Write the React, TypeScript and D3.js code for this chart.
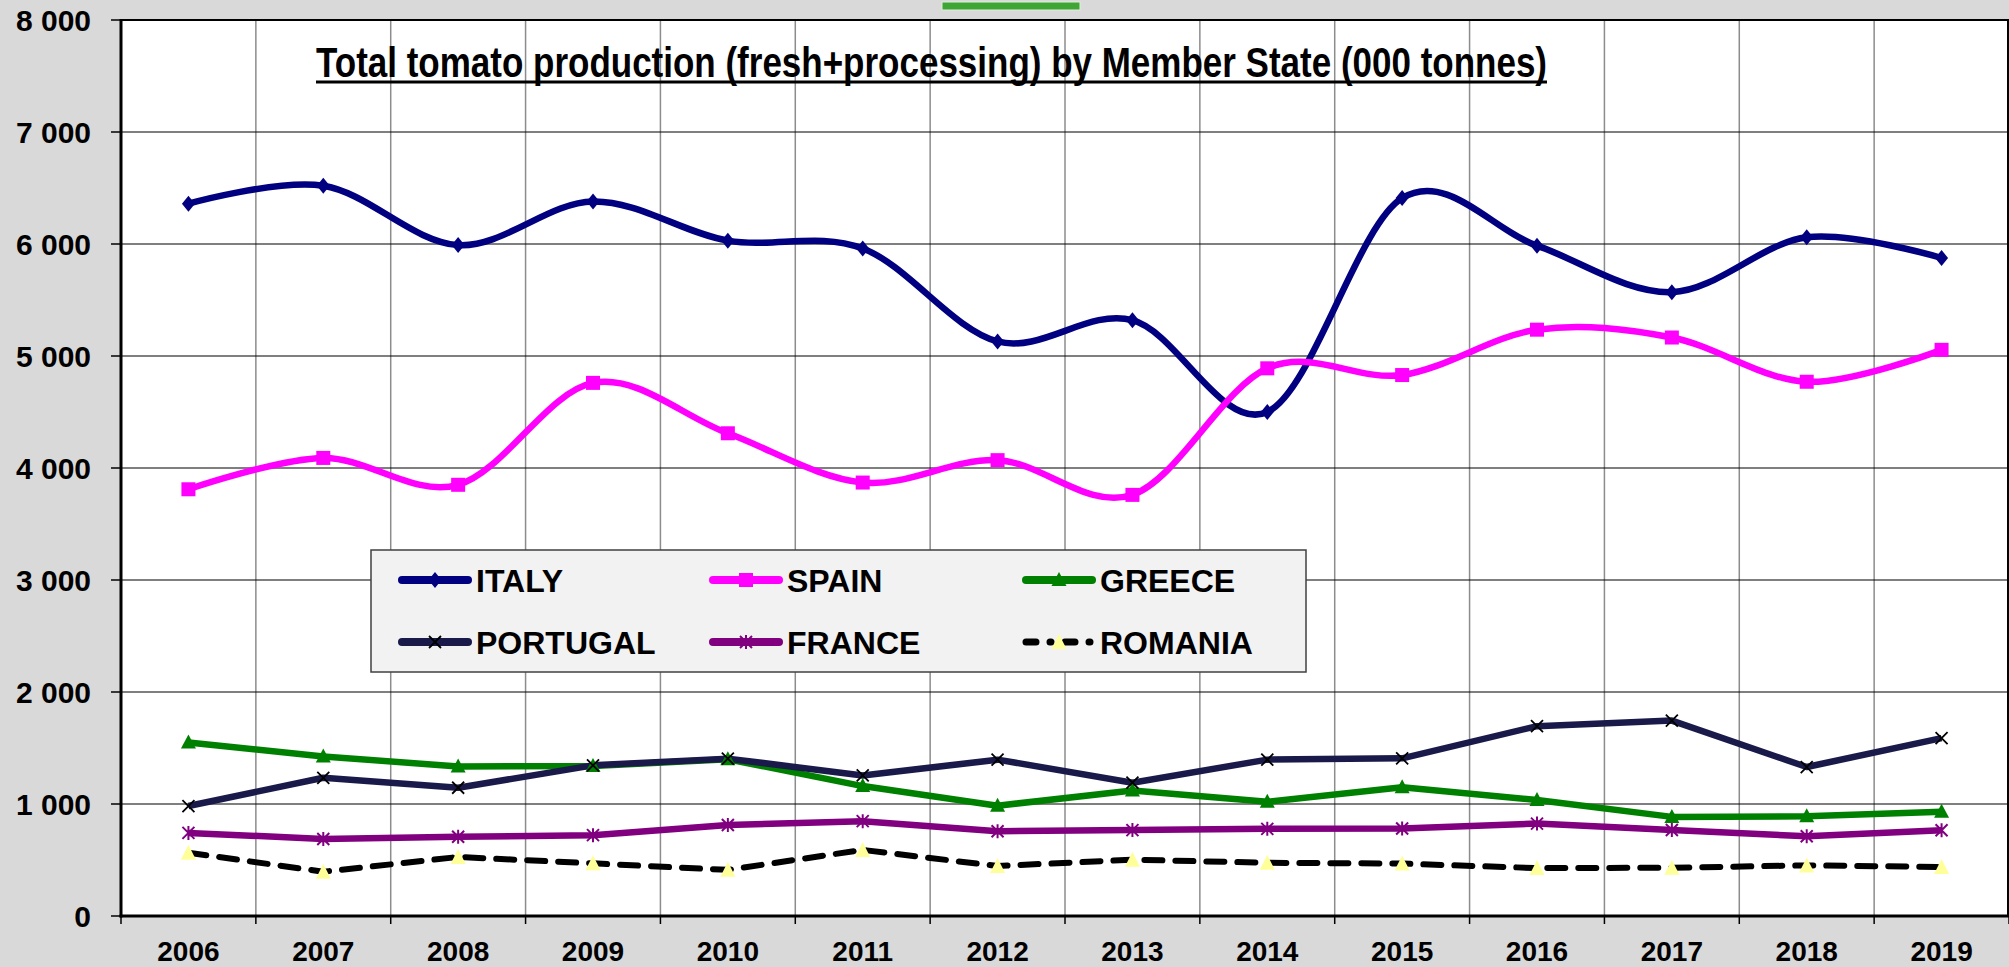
import React from 'react';
import * as d3 from 'd3';

// Total tomato production (fresh+processing) by Member State, 000 tonnes
const years = ['2006', '2007', '2008', '2009', '2010', '2011', '2012', '2013', '2014', '2015', '2016', '2017', '2018', '2019'];
const italy = [6360, 6520, 5990, 6380, 6030, 5960, 5130, 5320, 4500, 6410, 5985, 5570, 6060, 5875];
const spain = [3810, 4090, 3850, 4760, 4310, 3870, 4070, 3760, 4890, 4830, 5235, 5165, 4770, 5055];
const greece = [1550, 1425, 1335, 1340, 1400, 1160, 985, 1120, 1020, 1150, 1035, 885, 890, 930];
const portugal = [982, 1234, 1145, 1345, 1405, 1255, 1396, 1190, 1396, 1408, 1695, 1745, 1330, 1588];
const france = [742, 688, 707, 722, 812, 847, 757, 767, 778, 781, 825, 768, 712, 765];
const romania = [565, 395, 527, 470, 412, 590, 446, 503, 475, 468, 428, 431, 452, 438];
const yTicks = [0, 1000, 2000, 3000, 4000, 5000, 6000, 7000, 8000];
const title = 'Total tomato production (fresh+processing) by Member State (000 tonnes)';

type Marker = 'diamond' | 'square' | 'triangle' | 'x' | 'star' | 'ytriangle';

const series: { name: string; values: number[]; color: string; marker: Marker; smooth: boolean; dashed?: boolean }[] = [
    { name: 'ITALY', values: italy, color: '#000080', marker: 'diamond', smooth: true },
    { name: 'SPAIN', values: spain, color: '#ff00ff', marker: 'square', smooth: true },
    { name: 'GREECE', values: greece, color: '#008000', marker: 'triangle', smooth: false },
    { name: 'PORTUGAL', values: portugal, color: '#1a1a4a', marker: 'x', smooth: false },
    { name: 'FRANCE', values: france, color: '#800080', marker: 'star', smooth: false },
    { name: 'ROMANIA', values: romania, color: '#000000', marker: 'ytriangle', smooth: false, dashed: true },
];

const W = 2009;
const H = 967;
const left = 121;
const top = 20;
const right = 2009;
const bottom = 916;
const font = '"Liberation Sans", Arial, sans-serif';

const drawMarker = (m: Marker, color: string, cx: number, cy: number, key: string | number) => {
    switch (m) {
        case 'diamond':
            return <path key={key} d={`M${cx},${cy - 8}L${cx + 6.5},${cy}L${cx},${cy + 8}L${cx - 6.5},${cy}Z`} fill={color} />;
        case 'square':
            return <rect key={key} x={cx - 7} y={cy - 7} width={14} height={14} fill={color} />;
        case 'triangle':
            return <path key={key} d={`M${cx},${cy - 8}L${cx + 7.5},${cy + 6}L${cx - 7.5},${cy + 6}Z`} fill={color} />;
        case 'ytriangle':
            return <path key={key} d={`M${cx},${cy - 8}L${cx + 7.5},${cy + 7}L${cx - 7.5},${cy + 7}Z`} fill="#ffff99" />;
        case 'x':
            return (
                <path key={key} d={`M${cx - 6},${cy - 6}L${cx + 6},${cy + 6}M${cx + 6},${cy - 6}L${cx - 6},${cy + 6}`}
                    stroke="#000" strokeWidth={1.8} fill="none" />
            );
        case 'star':
            return (
                <path key={key}
                    d={`M${cx - 6},${cy - 6}L${cx + 6},${cy + 6}M${cx + 6},${cy - 6}L${cx - 6},${cy + 6}M${cx},${cy - 7}L${cx},${cy + 7}`}
                    stroke={color} strokeWidth={2} fill="none" />
            );
    }
};

const App: React.FC = () => {
    const x = d3.scaleBand<string>().domain(years).range([left, right]);
    const y = d3.scaleLinear().domain([0, 8000]).range([bottom, top]);
    const cx = (yr: string) => (x(yr) ?? 0) + x.bandwidth() / 2;

    const bounds = d3.range(years.length + 1).map(i => left + i * x.step());

    const legendCols = [398, 709, 1022];
    const legendRows = [580, 642];

    return (
        <div style={{ position: 'absolute', left: 0, top: 0 }}>
            <svg width={W} height={H} style={{ display: 'block' }}>
                <rect x={0} y={0} width={W} height={H} fill="#d9d9d9" />
                <rect x={942} y={2} width={138} height={8} fill="#3fa535" stroke="#e0f0dc" strokeWidth={1} />
                <rect x={left} y={top} width={right - left} height={bottom - top} fill="#fff" />

                {/* vertical grid */}
                {bounds.slice(1).map((b, i) => (
                    <line key={'vg' + i} x1={b} x2={b} y1={top} y2={bottom} stroke="#8c8c8c" strokeWidth={1.5} />
                ))}
                {/* horizontal grid */}
                {yTicks.slice(1, -1).map(t => (
                    <line key={'hg' + t} x1={left} x2={right} y1={y(t)} y2={y(t)} stroke="#000" strokeWidth={1.2} />
                ))}

                {/* title */}
                <text x={316} y={77} fontFamily={'"Liberation Sans Narrow", "Arial Narrow", ' + font} fontWeight="bold"
                    fontSize={42.6} textLength={1231} lengthAdjust="spacingAndGlyphs" fill="#000">{title}</text>
                <rect x={316} y={80.5} width={1231} height={3} fill="#000" />

                {/* lines */}
                {series.map(s => {
                    const line = d3.line<number>()
                        .x((_, i) => cx(years[i]))
                        .y(d => y(d))
                        .curve(s.smooth ? d3.curveCardinal.tension(0) : d3.curveLinear);
                    return (
                        <path key={s.name} d={line(s.values) ?? ''} fill="none" stroke={s.color}
                            strokeWidth={s.dashed ? 6 : 6.5} strokeLinejoin="round"
                            strokeLinecap={s.dashed ? 'round' : 'butt'}
                            strokeDasharray={s.dashed ? '18 13' : undefined} />
                    );
                })}
                {series.map(s => s.values.map((v, i) => drawMarker(s.marker, s.color, cx(years[i]), y(v), s.name + i)))}

                {/* plot border and axes */}
                <line x1={left} x2={right} y1={top} y2={top} stroke="#000" strokeWidth={2} />
                <line x1={left} x2={left} y1={top - 1} y2={bottom + 1.5} stroke="#000" strokeWidth={3} />
                <line x1={left - 1.5} x2={right} y1={bottom} y2={bottom} stroke="#000" strokeWidth={3} />
                <line x1={right - 1} x2={right - 1} y1={top} y2={bottom} stroke="#000" strokeWidth={2} />

                {/* y axis */}
                {yTicks.map(t => (
                    <g key={'yt' + t}>
                        <line x1={111} x2={left} y1={y(t)} y2={y(t)} stroke="#000" strokeWidth={1.5} />
                        <text x={91} y={y(t) + 10.5} textAnchor="end" fontFamily={font} fontWeight="bold" fontSize={30}>
                            {d3.format(',')(t).replace(',', '\u00a0')}
                        </text>
                    </g>
                ))}

                {/* x axis */}
                {bounds.map((b, i) => (
                    <line key={'xt' + i} x1={b} x2={b} y1={bottom} y2={bottom + 8} stroke="#000" strokeWidth={1.5} />
                ))}
                {years.map(yr => (
                    <text key={'xl' + yr} x={cx(yr)} y={961} textAnchor="middle" fontFamily={font} fontWeight="bold" fontSize={28}>
                        {yr}
                    </text>
                ))}

                {/* legend */}
                <rect x={371} y={550} width={935} height={122} fill="#f2f2f2" stroke="#404040" strokeWidth={1.5} />
                {series.map((s, i) => {
                    const lx = legendCols[i % 3];
                    const ly = legendRows[Math.floor(i / 3)];
                    return (
                        <g key={'lg' + s.name}>
                            <line x1={lx + 4} x2={lx + 70} y1={ly} y2={ly} stroke={s.color} strokeWidth={s.dashed ? 7 : 8}
                                strokeLinecap="round" strokeDasharray={s.dashed ? '10 14 1 14' : undefined} />
                            {drawMarker(s.marker, s.color, lx + 37, ly, 'lm')}
                            <text x={lx + 78} y={ly + 12} fontFamily={font} fontWeight="bold" fontSize={32}>{s.name}</text>
                        </g>
                    );
                })}
            </svg>
        </div>
    );
};

export default App;
